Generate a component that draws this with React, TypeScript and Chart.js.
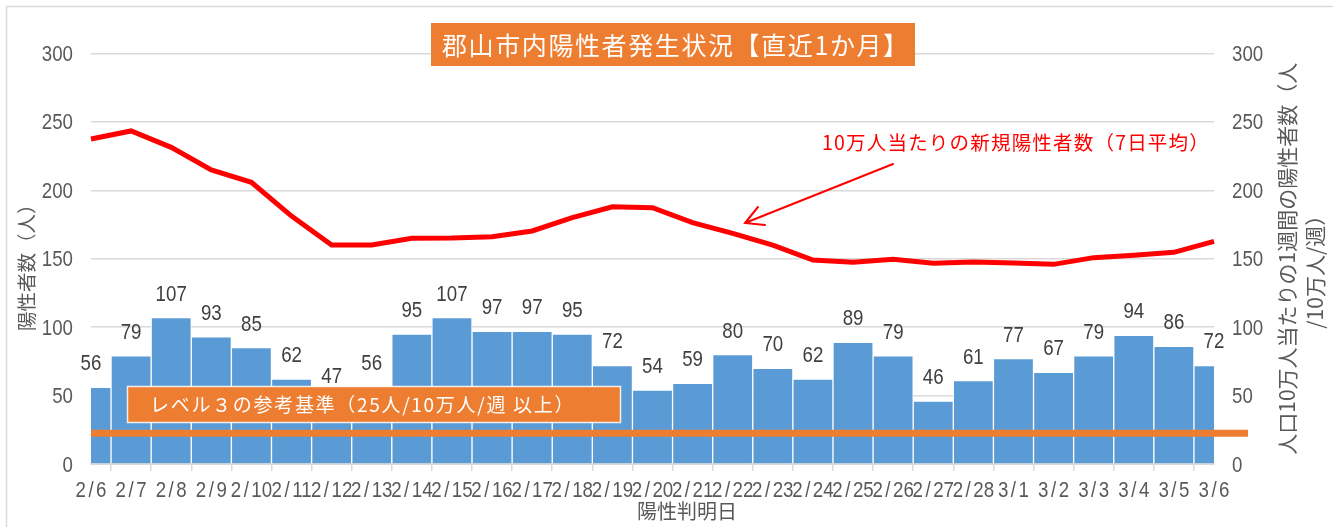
import React, { useEffect, useRef } from 'react';
import { Chart, registerables } from 'chart.js';

Chart.register(...registerables);

// ---- data ----
const dates = [
  '2/6', '2/7', '2/8', '2/9', '2/10', '2/11', '2/12', '2/13', '2/14', '2/15',
  '2/16', '2/17', '2/18', '2/19', '2/20', '2/21', '2/22', '2/23', '2/24', '2/25',
  '2/26', '2/27', '2/28', '3/1', '3/2', '3/3', '3/4', '3/5', '3/6',
];
const positives = [
  56, 79, 107, 93, 85, 62, 47, 56, 95, 107,
  97, 97, 95, 72, 54, 59, 80, 70, 62, 89,
  79, 46, 61, 77, 67, 79, 94, 86, 72,
];
const per100kWeekly = [
  237.5, 243.4, 231.4, 214.9, 205.9, 181.2, 160.1, 160.1, 165.0, 165.2,
  166.1, 170.3, 180.0, 188.0, 187.3, 176.4, 168.6, 160.0, 149.1, 147.4,
  149.6, 146.7, 147.6, 146.9, 145.9, 150.8, 152.5, 154.7, 162.7,
];
const axisMin = 0;
const axisMax = 300;
const axisStep = 50;
const axisTicks = [0, 50, 100, 150, 200, 250, 300];
const thresholdValue = 22.4;

const titleText = '郡山市内陽性者発生状況【直近1か月】';
const legendText = 'レベル３の参考基準（25人/10万人/週 以上）';
const annotationText = '10万人当たりの新規陽性者数（7日平均）';
const leftAxisTitle = '陽性者数（人）';
const rightAxisTitle = ['人口10万人当たりの1週間の陽性者数（人', '/10万人/週）'];
const xAxisTitle = '陽性判明日';

// ---- styles ----
const NUM_FONT = "'Liberation Sans', Arial, sans-serif";
const JP_FONT = "'Noto Sans CJK JP', sans-serif";
const GRAY_TEXT = '#595959';
const LABEL_TEXT = '#404040';
const GRID = '#D9D9D9';
const BAR = '#5B9BD5';
const ORANGE = '#ED7D31';
const RED = '#FF0000';
const NARROW = 0.85;
const NUM_SIZE = 22;

function drawNarrow(
  ctx: CanvasRenderingContext2D,
  text: string,
  x: number,
  y: number,
  align: CanvasTextAlign,
  color: string,
) {
  ctx.save();
  ctx.font = `${NUM_SIZE}px ${NUM_FONT}`;
  ctx.fillStyle = color;
  ctx.textAlign = align;
  ctx.textBaseline = 'alphabetic';
  ctx.translate(x, y);
  ctx.scale(NARROW, 1);
  ctx.fillText(text, 0, 0);
  ctx.restore();
}

// date label with a wide slash, centred on cx
function drawDate(ctx: CanvasRenderingContext2D, label: string, cx: number, y: number) {
  const [m, d] = label.split('/');
  ctx.save();
  ctx.font = `${NUM_SIZE}px ${NUM_FONT}`;
  const wm = ctx.measureText(m).width * NARROW;
  const ws = ctx.measureText('/').width * NARROW + 5;
  const wd = ctx.measureText(d).width * NARROW;
  ctx.restore();
  const start = cx - (wm + ws + wd) / 2;
  drawNarrow(ctx, m, start, y, 'left', GRAY_TEXT);
  drawNarrow(ctx, '/', start + wm + ws / 2, y, 'center', GRAY_TEXT);
  drawNarrow(ctx, d, start + wm + ws, y, 'left', GRAY_TEXT);
}

function drawSpaced(
  ctx: CanvasRenderingContext2D,
  text: string,
  x: number,
  y: number,
  font: string,
  color: string,
  spacing: number,
) {
  ctx.save();
  ctx.font = font;
  ctx.fillStyle = color;
  ctx.textAlign = 'left';
  ctx.textBaseline = 'middle';
  (ctx as any).letterSpacing = `${spacing}px`;
  ctx.fillText(text, x, y);
  ctx.restore();
}

const overlayPlugin = {
  id: 'overlay',
  beforeDraw(chart: any) {
    const ctx = chart.ctx as CanvasRenderingContext2D;
    ctx.save();
    ctx.fillStyle = '#ffffff';
    ctx.fillRect(0, 0, chart.width, chart.height);
    ctx.strokeStyle = GRID;
    ctx.lineWidth = 1.5;
    ctx.beginPath();
    ctx.moveTo(6.5, chart.height);
    ctx.lineTo(6.5, 6.5);
    ctx.lineTo(chart.width, 6.5);
    ctx.stroke();
    ctx.restore();
  },
  afterDatasetsDraw(chart: any) {
    const ctx = chart.ctx as CanvasRenderingContext2D;
    const xs = chart.scales.x;
    const ys = chart.scales.y;
    const area = chart.chartArea;
    ctx.save();

    // threshold line (extends past plot area as in the original)
    const ty = ys.getPixelForValue(thresholdValue);
    ctx.strokeStyle = ORANGE;
    ctx.lineWidth = 7;
    ctx.beginPath();
    ctx.moveTo(area.left, ty);
    ctx.lineTo(area.right + 34, ty);
    ctx.stroke();

    // legend box
    ctx.fillStyle = ORANGE;
    ctx.fillRect(127.5, 386.5, 493, 36);
    ctx.strokeStyle = 'rgba(255,255,255,0.85)';
    ctx.lineWidth = 1.5;
    ctx.strokeRect(127.5, 386.5, 493, 36);
    ctx.restore();
    drawSpaced(ctx, legendText, 150, 405, `19px ${JP_FONT}`, '#ffffff', 1.7);

    // data labels
    positives.forEach((v, i) => {
      const px = xs.getPixelForValue(i);
      const py = ys.getPixelForValue(v);
      drawNarrow(ctx, String(v), px, py - 17, 'center', LABEL_TEXT);
    });
  },
  afterDraw(chart: any) {
    const ctx = chart.ctx as CanvasRenderingContext2D;
    const xs = chart.scales.x;
    const ys = chart.scales.y;
    const ys2 = chart.scales.y2;
    const area = chart.chartArea;

    // y tick labels (left / right)
    axisTicks.forEach((t) => {
      drawNarrow(ctx, String(t), area.left - 18, ys.getPixelForValue(t) + 7.5, 'right', GRAY_TEXT);
      drawNarrow(ctx, String(t), area.right + 18, ys2.getPixelForValue(t) + 7.5, 'left', GRAY_TEXT);
    });

    // x tick labels
    dates.forEach((d, i) => {
      drawDate(ctx, d, xs.getPixelForTick(i), 497);
    });

    ctx.save();
    ctx.fillStyle = GRAY_TEXT;

    // x axis title
    ctx.font = `20px ${JP_FONT}`;
    ctx.textAlign = 'center';
    ctx.textBaseline = 'middle';
    ctx.fillText(xAxisTitle, 687, 511);

    // left axis title
    const cy = (area.top + area.bottom) / 2;
    ctx.save();
    ctx.translate(27, cy + 4);
    ctx.rotate(-Math.PI / 2);
    ctx.font = `19.5px ${JP_FONT}`;
    ctx.textAlign = 'center';
    ctx.textBaseline = 'middle';
    ctx.fillText(leftAxisTitle, 0, 0);
    ctx.restore();

    // right axis title (two lines)
    ctx.save();
    ctx.font = `21px ${JP_FONT}`;
    ctx.textAlign = 'center';
    ctx.textBaseline = 'middle';
    ctx.translate(1287, cy);
    ctx.rotate(-Math.PI / 2);
    ctx.fillText(rightAxisTitle[0], 0, 0);
    ctx.fillText(rightAxisTitle[1], -8, 28);
    ctx.restore();

    // chart title box
    ctx.fillStyle = ORANGE;
    ctx.fillRect(431, 23, 484, 43);
    ctx.restore();
    drawSpaced(ctx, titleText, 442, 45, `25px ${JP_FONT}`, '#ffffff', 1.6);

    // annotation text + arrow
    drawSpaced(ctx, annotationText, 822, 143, `19.5px ${JP_FONT}`, RED, 1.2);
    ctx.save();
    ctx.strokeStyle = RED;
    ctx.lineWidth = 2;
    ctx.lineCap = 'round';
    ctx.beginPath();
    ctx.moveTo(893, 164);
    ctx.lineTo(745, 223);
    ctx.moveTo(758, 207);
    ctx.lineTo(745, 223);
    ctx.lineTo(765, 225);
    ctx.stroke();
    ctx.restore();
  },
};

export default function App() {
  const ref = useRef<HTMLCanvasElement>(null);

  useEffect(() => {
    if (!ref.current) return;
    const chart = new Chart(ref.current, {
      type: 'bar',
      data: {
        labels: dates,
        datasets: [
          {
            type: 'line',
            label: annotationText,
            data: per100kWeekly,
            yAxisID: 'y2',
            borderColor: RED,
            borderWidth: 5,
            pointRadius: 0,
            tension: 0,
            fill: false,
            order: 1,
          } as any,
          {
            type: 'bar',
            label: '陽性者数',
            data: positives,
            yAxisID: 'y',
            backgroundColor: BAR,
            borderColor: 'rgba(255,255,255,0.9)',
            borderWidth: 1,
            barPercentage: 1,
            categoryPercentage: 1,
            clip: 0,
            order: 2,
          } as any,
        ],
      },
      options: {
        responsive: false,
        animation: false,
        layout: { padding: { top: 53.5, left: 0, right: 0, bottom: 0 } },
        plugins: {
          legend: { display: false },
          tooltip: { enabled: false },
          title: { display: false },
        },
        scales: {
          x: {
            type: 'category',
            offset: false,
            grid: {
              drawOnChartArea: false,
              drawTicks: true,
              tickLength: 7,
              color: GRID,
              lineWidth: 1.5,
            },
            border: { display: true, color: GRID, width: 2 },
            ticks: {
              color: 'rgba(0,0,0,0)',
              autoSkip: false,
              maxRotation: 0,
              minRotation: 0,
              font: { size: 12 },
            },
            afterFit: (s: any) => {
              s.height = 63;
            },
          },
          y: {
            position: 'left',
            min: axisMin,
            max: axisMax,
            ticks: {
              stepSize: axisStep,
              color: 'rgba(0,0,0,0)',
              padding: 18,
              font: { size: 12 },
            },
            grid: { color: GRID, lineWidth: 1.5, drawTicks: false },
            border: { display: false },
            afterFit: (s: any) => {
              s.width = 91;
            },
          },
          y2: {
            position: 'right',
            min: axisMin,
            max: axisMax,
            ticks: {
              stepSize: axisStep,
              color: 'rgba(0,0,0,0)',
              padding: 18,
              font: { size: 12 },
            },
            grid: { display: false, drawTicks: false },
            border: { display: false },
            afterFit: (s: any) => {
              s.width = 119;
            },
          },
        },
      } as any,
      plugins: [overlayPlugin],
    });
    return () => chart.destroy();
  }, []);

  return (
    <div style={{ position: 'absolute', left: 0, top: 0, width: 1333, height: 527, background: '#fff' }}>
      <canvas ref={ref} width={1333} height={527} style={{ display: 'block' }} />
    </div>
  );
}
